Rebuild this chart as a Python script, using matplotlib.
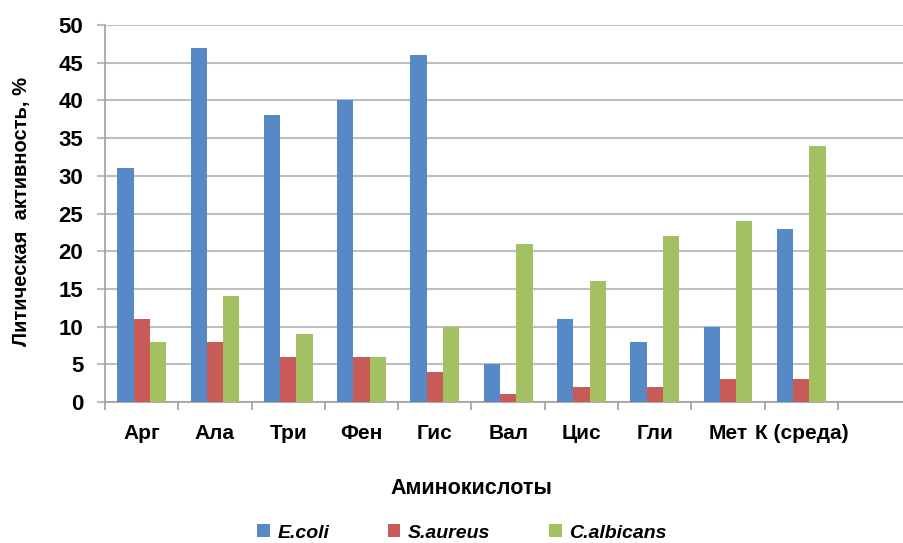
import numpy as np
import matplotlib.pyplot as plt

plt.rcParams['font.family'] = ['Liberation Sans', 'DejaVu Sans']

categories = ["Арг", "Ала", "Три", "Фен", "Гис", "Вал", "Цис", "Гли", "Мет", "К (среда)"]
e_coli = [31, 47, 38, 40, 46, 5, 11, 8, 10, 23]
s_aureus = [11, 8, 6, 6, 4, 1, 2, 2, 3, 3]
c_albicans = [8, 14, 9, 6, 10, 21, 16, 22, 24, 34]

series = [("E.coli", e_coli, "#5689C6"),
          ("S.aureus", s_aureus, "#C85A58"),
          ("C.albicans", c_albicans, "#A3C163")]

W, H = 904, 543
fig = plt.figure(figsize=(W / 100, H / 100), dpi=100)
ax = fig.add_axes([105 / W, (H - 402) / H, 1 - 105 / W, 377 / H])

x = np.arange(len(categories))
bw = 0.222
for i, (name, vals, col) in enumerate(series):
    ax.bar(x + (i - 1) * bw, vals, bw, color=col, label=name, zorder=3)

ax.set_ylim(0, 50)
ax.set_yticks(range(0, 51, 5))
ax.set_xlim(-0.5, (W - 105) / 73.3 - 0.5)
ax.set_xticks(np.arange(len(categories) + 1) - 0.5)
ax.set_xticklabels([])
ax.set_xticks(x, minor=True)
ax.set_xticklabels(categories, minor=True)
ax.tick_params(axis='x', which='major', length=6, color='#A0A0A0', width=1.2)
ax.tick_params(axis='x', which='minor', length=0, pad=16, labelsize=15)
ax.tick_params(axis='y', length=6, color='#BEBEBE', width=1.5, labelsize=16, pad=9.5)
for lab in ax.get_xticklabels(minor=True) + ax.get_yticklabels():
    lab.set_fontweight('bold')

ax.grid(axis='y', color='#BEBEBE', linewidth=1.5, zorder=0)
for s in ['top', 'right']:
    ax.spines[s].set_visible(False)
ax.spines['left'].set_color('#A0A0A0')
ax.spines['bottom'].set_color('#A0A0A0')
ax.spines['left'].set_linewidth(1.2)
ax.spines['bottom'].set_linewidth(1.2)

fig.text(22 / W, 1 - 212 / H, "Литическая  активность, %", rotation=90,
         ha='center', va='center', fontsize=14.5, fontweight='bold')
fig.text(471 / W, 1 - 488 / H, "Аминокислоты", ha='center', va='center',
         fontsize=15.5, fontweight='bold')

leg = fig.legend(loc='center', bbox_to_anchor=(462 / W, 1 - 533 / H), ncol=3,
                 frameon=False, handlelength=0.65, handleheight=0.65,
                 columnspacing=3.0, handletextpad=0.4,
                 prop={'weight': 'bold', 'style': 'italic', 'size': 14})

fig.savefig("out.png", dpi=100)
